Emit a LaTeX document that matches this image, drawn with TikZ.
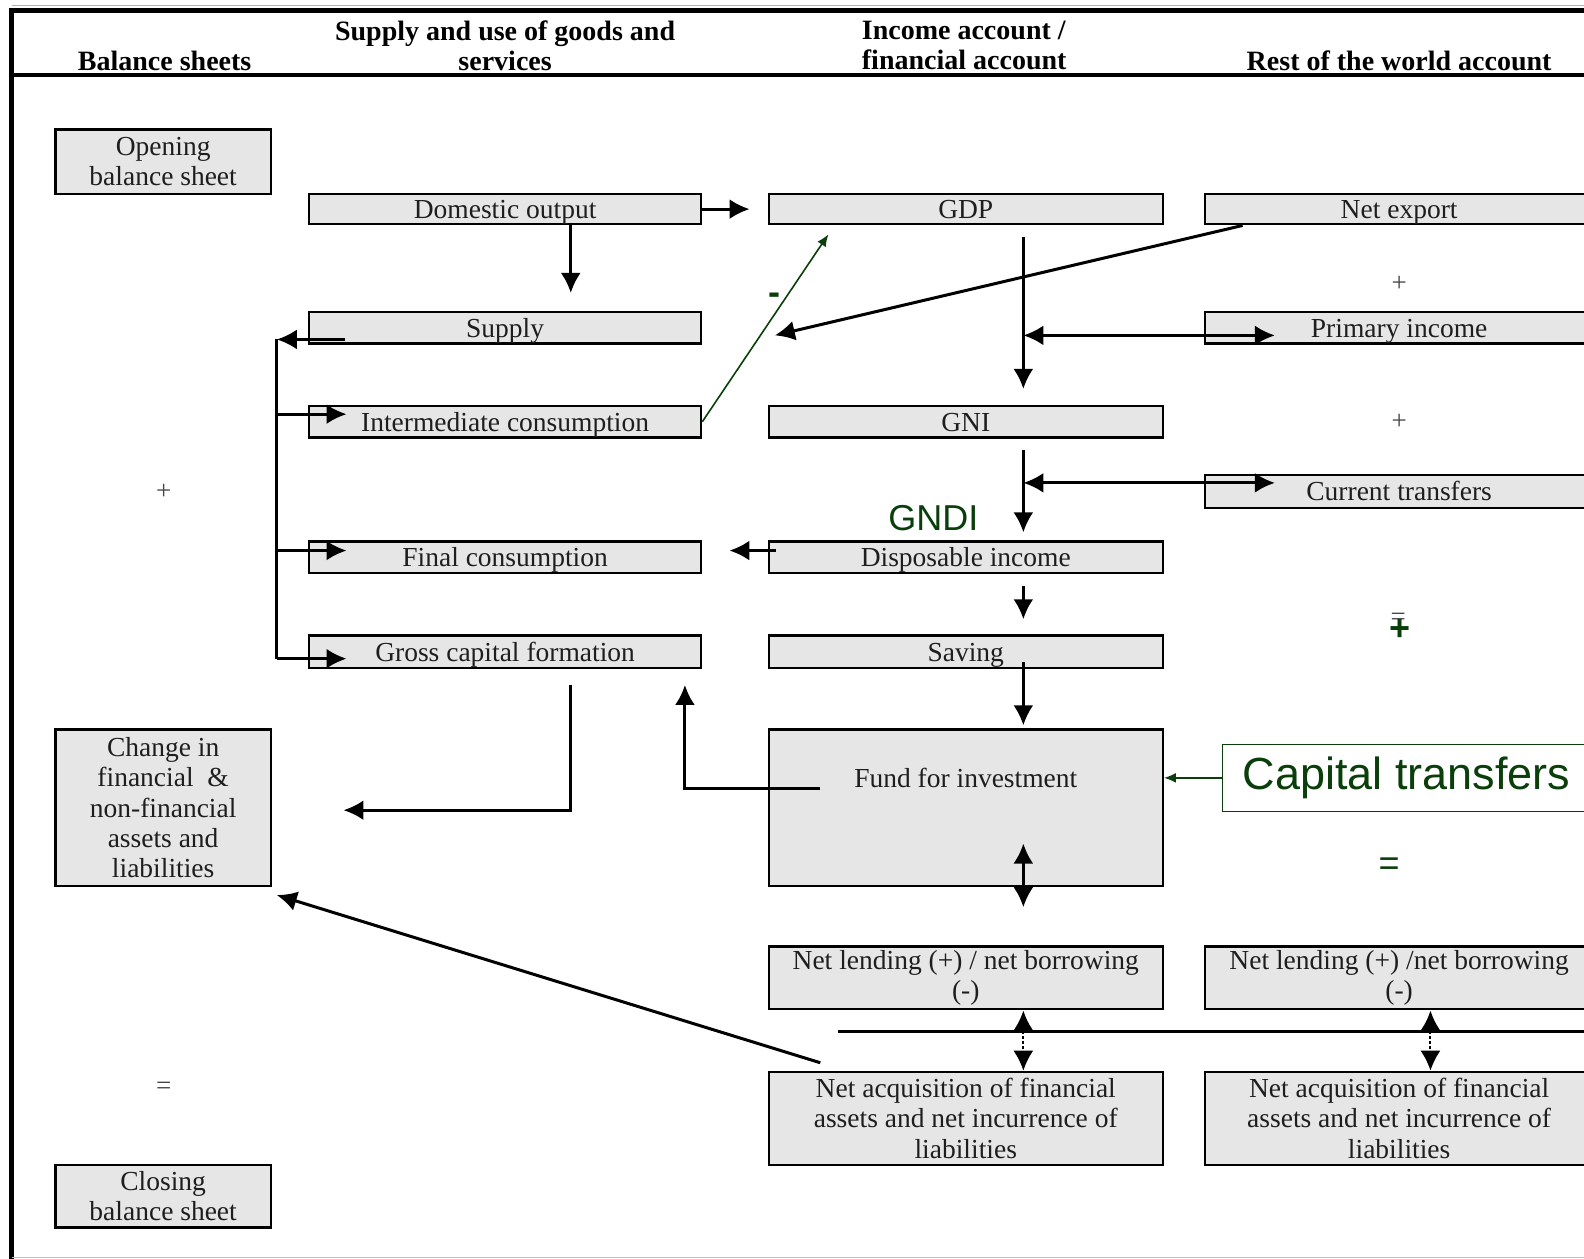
\documentclass[tikz,border=0pt]{standalone}
\usepackage{fontspec}
\setmainfont{Liberation Serif}
\newfontfamily\arialf{Liberation Sans}
\usetikzlibrary{arrows.meta}
\definecolor{dkgreen}{RGB}{10,62,10}
\definecolor{boxfill}{RGB}{230,230,230}
\definecolor{txt}{RGB}{30,30,30}
\definecolor{signgray}{RGB}{70,70,70}
\tikzset{
  box/.style={draw=black, line width=2.4pt, fill=boxfill, inner sep=0pt, align=center,
    font=\fontsize{27.5}{30.3}\selectfont, text=txt},
  oneline/.style={text height=19pt, text depth=0pt},
  hdr/.style={inner sep=0pt, font=\bfseries\fontsize{28}{30.3}\selectfont, text=black},
  btext/.style={inner sep=0pt, font=\fontsize{27.5}{30.3}\selectfont, text=txt},
  sign/.style={inner sep=0pt, font=\fontsize{27}{30}\selectfont, text=signgray},
  gtext/.style={inner sep=0pt, text=dkgreen},
  line/.style={draw=black, line width=3pt},
  arr/.style={line, -{Latex[length=20pt,width=20pt]}},
  darr/.style={line, {Latex[length=20pt,width=20pt]}-{Latex[length=20pt,width=20pt]}},
  garr/.style={draw=dkgreen, line width=1.6pt, -{Latex[length=12pt,width=10pt]}},
}
\newcommand\drawbox[7][]{\node[box, #1, minimum width={(#5-#3)*1.0102pt}, minimum height={(#6-#4)*1.0102pt}] (#2) at ({(#3+#5)/2},{(#4+#6)/2}) {#7};}
\begin{document}
\begin{tikzpicture}[x=1.0102pt,y=-1.0102pt]
\useasboundingbox (0,0) rectangle (1568,1246);
\clip (0,0) rectangle (1568,1246);
\fill[white] (0,0) rectangle (1568,1246);
% frame
\draw[black!30, line width=1pt] (11.5,5.5) -- (1580,5.5);
\draw[line width=5pt] (11.5,10) -- (1580,10);
\draw[line width=4pt] (11.5,74.5) -- (1580,74.5);
\draw[line width=5.5pt] (11.5,7.5) -- (11.5,1246);
\draw[black!25, line width=1.2pt] (11.5,1244.5) -- (1580,1244.5);
% headers
\node[hdr] (h1) at (163,60) {Balance sheets};
\node[hdr, align=center] (h2) at (500,45) {Supply and use of goods and\\services};
\node[hdr, align=left, anchor=west] (h3) at (853,45) {Income account /\\financial account};
\node[hdr] (h4) at (1385,60) {Rest of the world account};
% boxes
\drawbox{open}{55}{128}{268}{192}{Opening\\balance sheet}
\drawbox[oneline]{dom}{306}{192}{694}{222}{Domestic output}
\drawbox[oneline]{gdp}{761}{192}{1151}{222}{GDP}
\drawbox[oneline]{nex}{1193}{192}{1577}{222}{Net export}
\drawbox[oneline]{sup}{306}{309}{694}{340}{Supply}
\drawbox[oneline]{pri}{1193}{309}{1577}{340}{Primary income}
\drawbox[oneline]{ic}{306}{402}{694}{433}{Intermediate consumption}
\drawbox[oneline]{gni}{761}{402}{1151}{433}{GNI}
\drawbox[oneline]{ct}{1193}{470}{1577}{503}{Current transfers}
\drawbox[oneline]{fc}{306}{536}{694}{567}{Final consumption}
\drawbox[oneline]{di}{761}{536}{1151}{567}{Disposable income}
\drawbox[oneline]{gcf}{306}{629}{694}{661}{Gross capital formation}
\drawbox[oneline]{sav}{761}{629}{1151}{661}{Saving}
\drawbox{chg}{55}{722}{268}{877}{Change in\\financial \ \&\\non-financial\\assets and\\liabilities}
\drawbox{fund}{761}{722}{1151}{877}{}
\node[btext] (fundtxt) at (956,770) {Fund for investment};
\drawbox{nll}{761}{937}{1151}{999}{Net lending (+) / net borrowing\\(-)}
\drawbox{nlr}{1193}{937}{1577}{999}{Net lending (+) /net borrowing\\(-)}
\drawbox{nal}{761}{1061}{1151}{1153}{Net acquisition of financial\\assets and net incurrence of\\liabilities}
\drawbox{nar}{1193}{1061}{1577}{1153}{Net acquisition of financial\\assets and net incurrence of\\liabilities}
\drawbox{close}{55}{1153}{268}{1215}{Closing\\balance sheet}
% signs
\node[sign] (s1) at (162,487) {+};
\node[sign] (s2) at (162,1077) {=};
\node[sign] (s3) at (1385,281) {+};
\node[sign] (s4) at (1385,418) {+};
\node[sign] (s5) at (1384,613) {=};
\node[gtext, font=\arialf\bfseries\fontsize{36}{36}\selectfont] (s6) at (1386,624) {+};
\node[gtext, font=\arialf\fontsize{36}{36}\selectfont] (s7) at (1375,858) {=};
\node[gtext, font=\arialf\fontsize{36}{36}\selectfont] (gndi) at (924,513) {GNDI};
\node[gtext, font=\arialf\bfseries\fontsize{36}{36}\selectfont] (minus) at (767,296) {-};
% capital transfers
\node[draw=dkgreen, line width=1.3pt, fill=white, inner sep=0pt, minimum width={365*1.0102pt}, minimum height={66*1.0102pt}, text=dkgreen, font=\arialf\fontsize{45}{45}\selectfont] (cap) at (1392.5,770) {Capital transfers};
% coordinates
\coordinate (t1) at (742,207);
\coordinate (t2) at (565,290);
\coordinate (a3) at (1230,222);
\coordinate (t3) at (767,332);
\coordinate (a4) at (1013,235);
\coordinate (t4) at (1013,385);
\coordinate (a5) at (1013,332);
\coordinate (t5) at (1262,332);
\coordinate (a6) at (1013,445);
\coordinate (t6) at (1013,527);
\coordinate (a7) at (1013,478);
\coordinate (t7) at (1262,478);
\coordinate (a8) at (768,545);
\coordinate (t8) at (722,545);
\coordinate (a9) at (1013,580);
\coordinate (t9) at (1013,613);
\coordinate (a10) at (1013,655);
\coordinate (t10) at (1013,718);
\coordinate (a11) at (812,781);
\coordinate (b11) at (678,781);
\coordinate (t11) at (678,678);
\coordinate (a12) at (565,678);
\coordinate (b12) at (565,802);
\coordinate (t12) at (340,802);
\coordinate (a13) at (342,336);
\coordinate (j1) at (274,336);
\coordinate (j2) at (274,410);
\coordinate (j3) at (274,545);
\coordinate (j4) at (274,652);
\coordinate (e2) at (343,410);
\coordinate (e3) at (343,545);
\coordinate (e4) at (343,652);
\coordinate (a14) at (1013,835);
\coordinate (t14) at (1013,898);
\coordinate (a15) at (812,1052);
\coordinate (t15) at (274,886);
\coordinate (l1) at (830,1021);
\coordinate (l2) at (1580,1021);
\coordinate (m1) at (1013,1021);
\coordinate (m2) at (1416,1021);
\coordinate (t20) at (820,232);
% connectors
\draw[arr] (dom.east) -- (t1);
\draw[arr] (dom.south -| t2) -- (t2);
\draw[arr] (nex.south -| a3) -- (t3);
\draw[arr] (a4) -- (t4);
\draw[darr] (a5) -- (t5);
\draw[arr] (a6) -- (t6);
\draw[darr] (a7) -- (t7);
\draw[arr] (a8) -- (t8);
\draw[arr] (a9) -- (t9);
\draw[arr] (a10) -- (t10);
\draw[arr] (a11) -- (b11) -- (t11);
\draw[arr] (a12) -- (b12) -- (t12);
\draw[arr] (a13) -- (j1);
\draw[line] (j1) -- (j4);
\draw[arr] (j2) -- (e2);
\draw[arr] (j3) -- (e3);
\draw[arr] (j4) -- (e4);
\draw[darr] (a14) -- (t14);
\draw[arr] (a15) -- (t15);
\draw[line] (l1) -- (l2);
\draw[arr] (m1) -- (nll.south -| m1);
\draw[arr, line width=2pt, dash pattern=on 3pt off 2pt] (m1) -- (nal.north -| m1);
\draw[arr] (m2) -- (nlr.south -| m2);
\draw[arr, line width=2pt, dash pattern=on 3pt off 2pt] (m2) -- (nar.north -| m2);
\draw[garr] (cap.west) -- (fund.east |- cap.west);
\draw[garr] (ic.east) -- (t20);
\end{tikzpicture}
\end{document}
